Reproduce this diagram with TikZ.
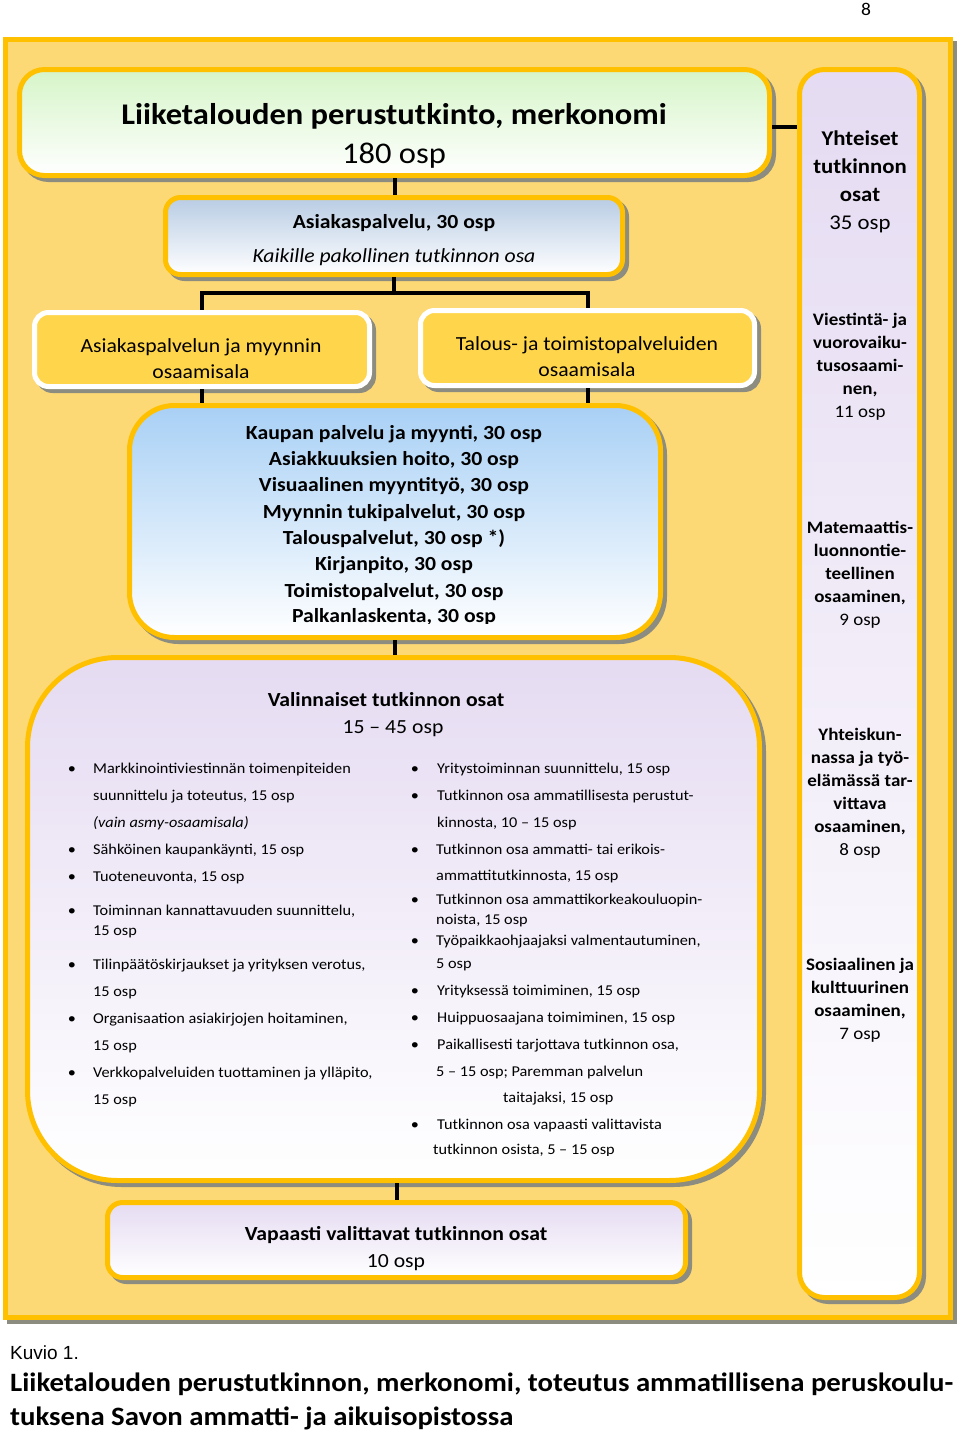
\documentclass[tikz,border=0pt]{standalone}
\usepackage{fontspec}
\setmainfont{Carlito}[FakeStretch=1.085]
\newfontfamily\arialf{Liberation Sans}
\usetikzlibrary{shadows}
\definecolor{bgy}{RGB}{253,217,117}
\definecolor{ygold}{RGB}{255,192,0}
\definecolor{osay}{RGB}{255,214,75}
\definecolor{grn}{RGB}{214,245,200}
\definecolor{blu1}{RGB}{184,204,228}
\definecolor{blu2}{RGB}{168,208,245}
\definecolor{lav}{RGB}{229,219,242}
\definecolor{shgray}{RGB}{140,140,128}
\tikzset{
  shad/.style={general shadow={fill=shgray, draw=shgray, line width=5pt, shadow xshift=4pt, shadow yshift=-4pt}},
  box/.style={draw=ygold, line width=5pt, rounded corners=#1, shad, inner sep=0pt},
  osabox/.style={draw=white, line width=5pt, fill=osay, rounded corners=14pt, shad, inner sep=0pt},
  t/.style={anchor=base, inner sep=0pt},
  tl/.style={anchor=base west, inner sep=0pt},
  conn/.style={draw=black, line width=4pt},
  bul/.style={anchor=base, inner sep=0pt, font=\fontsize{15}{18}\selectfont},
  lst/.style={anchor=base west, inner sep=0pt, font=\fontsize{15}{18}\selectfont},
  coltxt/.style={anchor=base, inner sep=0pt, font=\fontsize{17.5}{20}\bfseries},
  colosp/.style={anchor=base, inner sep=0pt, font=\fontsize{17.5}{20}\selectfont},
}
\begin{document}
\begin{tikzpicture}[x=1pt,y=-1pt]
\useasboundingbox (0,0) rectangle (960,1432);
% page number
\node[t, font=\fontsize{18}{20}\selectfont] (pnum) at (866,15) {8};
% frame
\node[draw=ygold, fill=bgy, line width=5pt, shad, inner sep=0pt, minimum width=945pt, minimum height=1278pt] (frame) at (478,678.5) {};
% boxes
\node[box=25pt, top color=grn, bottom color=white, minimum width=750pt, minimum height=106pt] (title) at (394.5,122.5) {};
\node[box=25pt, top color=lav, bottom color=white, minimum width=120pt, minimum height=1228pt] (col) at (859.5,683.5) {};
\node[box=15pt, top color=blu1, bottom color=white, minimum width=457pt, minimum height=77pt] (asiak) at (394,236) {};
\node[osabox, minimum width=335pt, minimum height=74pt] (osaL) at (202,349.5) {};
\node[osabox, minimum width=334pt, minimum height=75pt] (osaR) at (587.5,348) {};
\node[box=45pt, top color=blu2, bottom color=white, minimum width=531pt, minimum height=232pt] (blue) at (395,521.5) {};
\node[box=90pt, top color=lav, bottom color=white, minimum width=732pt, minimum height=523pt] (valin) at (393.5,919) {};
\node[box=15pt, top color=lav, bottom color=white, minimum width=578pt, minimum height=75pt] (vap) at (396.5,1240) {};
% connectors
\draw[conn] ([yshift=-4pt]title.east) -- ([yshift=-4pt]title.east -| col.west);
\draw[conn] (title.south) -- (title.south |- asiak.north);
\draw[conn] (asiak.south) -- ++(0,16) coordinate (split) -| (osaL.north);
\draw[conn] (split) -| (osaR.north);
\draw[conn] (osaL.south) -- (osaL.south |- blue.north);
\draw[conn] (osaR.south) -- (osaR.south |- blue.north);
\draw[conn] (blue.south) -- (blue.south |- valin.north);
\draw[conn] (vap.north |- valin.south) -- (vap.north);
% title texts
\node[t, font=\fontsize{30}{36}\bfseries] (titleA) at (394,124) {Liiketalouden perustutkinto, merkonomi};
\node[t, font=\fontsize{30}{36}\selectfont] (titleB) at (394,163) {180 osp};
\node[t, font=\fontsize{20}{24}\bfseries] (asiakA) at (394,228) {Asiakaspalvelu, 30 osp};
\node[t, font=\fontsize{20}{24}\itshape] (asiakB) at (394,262) {Kaikille pakollinen tutkinnon osa};
\node[t, font=\fontsize{20}{24}\selectfont] (osaLA) at (201,352) {Asiakaspalvelun ja myynnin};
\node[t, font=\fontsize{20}{24}\selectfont] (osaLB) at (201,378) {osaamisala};
\node[t, font=\fontsize{20}{24}\selectfont] (osaRA) at (587,350) {Talous- ja toimistopalveluiden};
\node[t, font=\fontsize{20}{24}\selectfont] (osaRB) at (587,376) {osaamisala};
% blue box list
\begin{scope}
\clip (127,403) rectangle (663,623);
\foreach \yy/\tx [count=\i] in {439.3/{Kaupan palvelu ja myynti, 30 osp},465.6/{Asiakkuuksien hoito, 30 osp},491.9/{Visuaalinen myyntityö, 30 osp},518.2/{Myynnin tukipalvelut, 30 osp},544.5/{Talouspalvelut, 30 osp *)},570.8/{Kirjanpito, 30 osp},597.1/{Toimistopalvelut, 30 osp},622/{Palkanlaskenta, 30 osp}}
  \node[t, font=\fontsize{20}{24}\bfseries] (bl\i) at (394,\yy) {\tx};
\end{scope}
% right column texts
\node[t, font=\fontsize{21}{24}\bfseries] (c1a) at (860,145) {Yhteiset};
\node[t, font=\fontsize{21}{24}\bfseries] (c1b) at (860,173) {tutkinnon};
\node[t, font=\fontsize{21}{24}\bfseries] (c1c) at (860,201) {osat};
\node[t, font=\fontsize{21}{24}\selectfont] (c1d) at (860,229) {35 osp};
\foreach \yy/\tx [count=\i] in {325/{Viestintä- ja},348/{vuorovaiku-},371/{tusosaami-},394/{nen,}}
  \node[coltxt] (c2\i) at (860,\yy) {\tx};
\node[colosp] (c2o) at (860,417) {11 osp};
\foreach \yy/\tx [count=\i] in {533/{Matemaattis-},556/{luonnontie-},579/{teellinen},602/{osaaminen,}}
  \node[coltxt] (c3\i) at (860,\yy) {\tx};
\node[colosp] (c3o) at (860,625) {9 osp};
\foreach \yy/\tx [count=\i] in {740/{Yhteiskun-},763/{nassa ja työ-},786/{elämässä tar-},809/{vittava},832/{osaaminen,}}
  \node[coltxt] (c4\i) at (860,\yy) {\tx};
\node[colosp] (c4o) at (860,855) {8 osp};
\foreach \yy/\tx [count=\i] in {970/{Sosiaalinen ja},993/{kulttuurinen},1016/{osaaminen,}}
  \node[coltxt] (c5\i) at (860,\yy) {\tx};
\node[colosp] (c5o) at (860,1039) {7 osp};
% valinnaiset
\node[t, font=\fontsize{20}{24}\bfseries] (vA) at (386,706) {Valinnaiset tutkinnon osat};
\node[t, font=\fontsize{20}{24}\selectfont] (vB) at (393,733) {15 -- 45 osp};
\foreach \yy [count=\i] in {773,854,881,915,969,1023,1077}
  \node[bul] (bL\i) at (72,\yy) {\textbullet};
\foreach \yy/\tx [count=\i] in {773/{Markkinointiviestinnän toimenpiteiden},800/{suunnittelu ja toteutus, 15 osp},827/{\itshape (vain asmy-osaamisala)},854/{Sähköinen kaupankäynti, 15 osp},881/{Tuoteneuvonta, 15 osp},915/{Toiminnan kannattavuuden suunnittelu,},935/{15 osp},969/{Tilinpäätöskirjaukset ja yrityksen verotus,},996/{15 osp},1023/{Organisaation asiakirjojen hoitaminen,},1050/{15 osp},1077/{Verkkopalveluiden tuottaminen ja ylläpito,},1104/{15 osp}}
  \node[lst] (lL\i) at (93,\yy) {\tx};
\foreach \yy [count=\i] in {773,800,854,904,945,995,1022,1049,1129}
  \node[bul] (bR\i) at (415,\yy) {\textbullet};
\foreach \yy/\xx/\tx [count=\i] in {773/437/{Yritystoiminnan suunnittelu, 15 osp},800/437/{Tutkinnon osa ammatillisesta perustut-},827/437/{kinnosta, 10 -- 15 osp},854/436/{Tutkinnon osa ammatti- tai erikois-},880/436/{ammattitutkinnosta, 15 osp},904/436/{Tutkinnon osa ammattikorkeakouluopin-},924/436/{noista, 15 osp},945/436/{Työpaikkaohjaajaksi valmentautuminen,},968/436/{5 osp},995/437/{Yrityksessä toimiminen, 15 osp},1022/437/{Huippuosaajana toimiminen, 15 osp},1049/437/{Paikallisesti tarjottava tutkinnon osa,},1076/436/{5 -- 15 osp; Paremman palvelun},1102/503/{taitajaksi, 15 osp},1129/437/{Tutkinnon osa vapaasti valittavista}}
  \node[lst] (lR\i) at (\xx,\yy) {\tx};
\begin{scope}
\clip (400,1130) rectangle (760,1155.5);
\node[lst] (lR16) at (433,1154) {tutkinnon osista, 5 -- 15 osp};
\end{scope}
% vapaasti
\node[t, font=\fontsize{20}{24}\bfseries] (vapA) at (396,1240) {Vapaasti valittavat tutkinnon osat};
\node[t, font=\fontsize{20}{24}\selectfont] (vapB) at (396,1267) {10 osp};
% caption
\node[tl, font=\arialf\fontsize{19}{22}\selectfont] (cap0) at (10,1359) {Kuvio 1.};
\node[tl, font=\fontsize{26.5}{30}\bfseries] (cap1) at (10,1391) {Liiketalouden perustutkinnon, merkonomi, toteutus ammatillisena peruskoulu-};
\node[tl, font=\fontsize{26.5}{30}\bfseries] (cap2) at (10,1425) {tuksena Savon ammatti- ja aikuisopistossa};
\end{tikzpicture}
\end{document}
